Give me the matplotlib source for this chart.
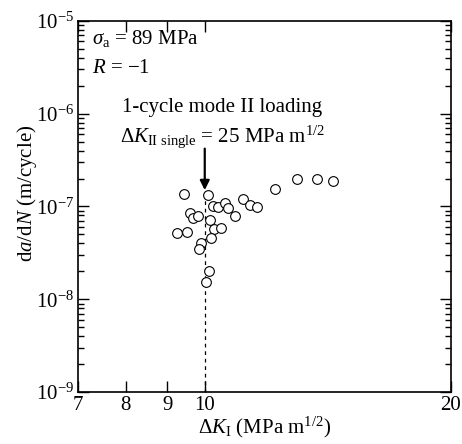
import numpy as np
import matplotlib
matplotlib.use("Agg")
import matplotlib.pyplot as plt
from matplotlib.ticker import FixedLocator, NullLocator, LogLocator, LogFormatterMathtext

plt.rcParams['font.family'] = ['Liberation Serif', 'DejaVu Serif']
plt.rcParams['mathtext.fontset'] = 'custom'
plt.rcParams['mathtext.rm'] = 'Liberation Serif'
plt.rcParams['mathtext.it'] = 'Liberation Serif:italic'
plt.rcParams['mathtext.bf'] = 'Liberation Serif:bold'

# crack growth data (delta K_I in MPa m^1/2, da/dN in m/cycle)
delta_k = [9.43, 10.10, 10.23, 10.38, 10.59, 10.69, 10.88, 11.15, 11.36, 11.57,
           12.20, 12.98, 13.72, 14.36, 9.59, 9.68, 9.80, 10.15, 10.26, 10.46,
           9.26, 9.51, 10.18, 9.90, 9.84, 10.13, 10.03]
dadn = [1.37e-7, 1.33e-7, 1.02e-7, 9.95e-8, 1.08e-7, 9.57e-8, 7.9e-8, 1.21e-7, 1.04e-7, 9.8e-8,
        1.53e-7, 2.0e-7, 1.98e-7, 1.9e-7, 8.45e-8, 7.57e-8, 7.96e-8, 7.15e-8, 5.77e-8, 5.9e-8,
        5.14e-8, 5.31e-8, 4.57e-8, 4.07e-8, 3.48e-8, 2.03e-8, 1.52e-8]

x_ticks = [7, 8, 9, 10, 20]
x_tick_labels = ['7', '8', '9', '10', '20']
k_single = 10

fs = 15

fig = plt.figure(figsize=(4.62, 4.44), dpi=100)
ax = fig.add_axes([0.169, 0.117, 0.807, 0.836])
ax.set_xscale('log')
ax.set_yscale('log')
ax.set_xlim(7, 20)
ax.set_ylim(1e-9, 1e-5)

ax.plot(delta_k, dadn, 'o', mfc='white', mec='black', ms=7.0, mew=0.8, zorder=3)

# dashed line and arrow at the single overload
ax.plot([k_single, k_single], [1e-9, 1.5e-7], 'k--', lw=0.9, dashes=(3, 3), zorder=2)
ax.annotate('', xy=(k_single, 1.5e-7), xytext=(k_single, 4.2e-7),
            arrowprops=dict(arrowstyle='-|>', color='black', lw=1.6,
                            mutation_scale=14, shrinkA=0, shrinkB=0))

ax.xaxis.set_major_locator(FixedLocator(x_ticks))
ax.set_xticklabels(x_tick_labels)
ax.xaxis.set_minor_locator(NullLocator())
ax.yaxis.set_major_locator(LogLocator(base=10, numticks=10))
ax.yaxis.set_major_formatter(LogFormatterMathtext())
ax.yaxis.set_minor_locator(LogLocator(base=10, subs=np.arange(2, 10), numticks=10))

ax.tick_params(which='both', direction='in', top=True, right=True, labelsize=fs, width=1)
ax.tick_params(which='major', length=8, pad=3)
ax.tick_params(which='minor', length=4)
for s in ax.spines.values():
    s.set_linewidth(1.2)

ax.set_xlabel(r'$\Delta\mathit{K}_{\rm I}$ (MPa m$^{1/2}$)', fontsize=fs, labelpad=0)
ax.set_ylabel(r'd$\mathit{a}$/d$\mathit{N}$ (m/cycle)', fontsize=fs)
ax.yaxis.set_label_coords(-0.105, 0.535)

ax.text(0.0375, 0.938, r'$\mathit{\sigma}_{\rm a}$ = 89 MPa', transform=ax.transAxes,
        fontsize=fs, va='baseline', ha='left')
ax.text(0.0375, 0.860, r'$\mathit{R}$ = −1', transform=ax.transAxes,
        fontsize=fs, va='baseline', ha='left')
ax.text(0.118, 0.755, '1-cycle mode II loading', transform=ax.transAxes,
        fontsize=fs, va='baseline', ha='left')
ax.text(0.113, 0.674, r'$\Delta\mathit{K}_{\rm II\ single}$ = 25 MPa m$^{1/2}$',
        transform=ax.transAxes, fontsize=fs, va='baseline', ha='left')

fig.savefig('out.png', dpi=100)
